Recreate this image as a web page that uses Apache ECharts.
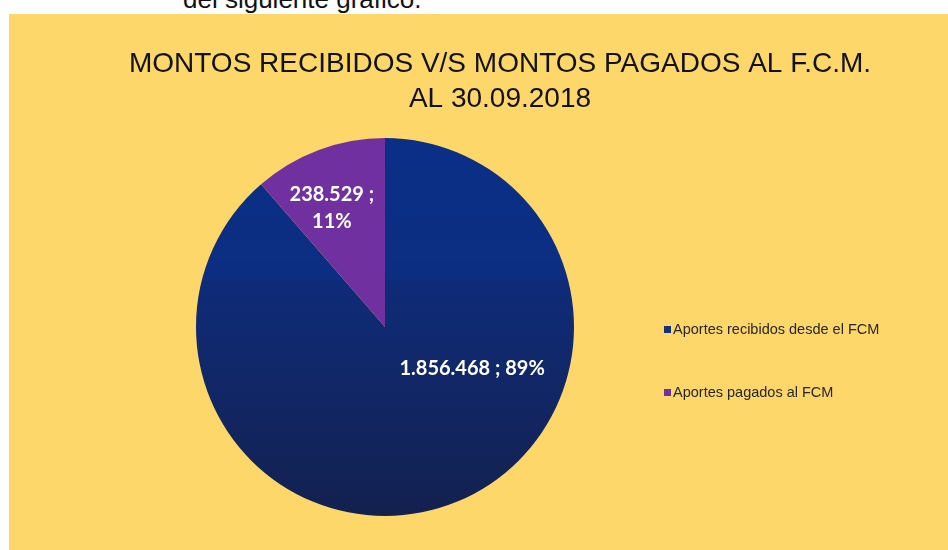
<!DOCTYPE html>
<html>
<head>
<meta charset="utf-8">
<script src="https://cdn.jsdelivr.net/npm/echarts@6/dist/echarts.min.js"></script>
<style>
  html, body { margin: 0; padding: 0; background: #fff; }
  #page { position: relative; width: 948px; height: 550px; overflow: hidden; }
  #top { position: absolute; left: 183px; top: -16px; font: 26px "Liberation Sans", Arial, sans-serif; color: #111; white-space: nowrap; }
  #chart { position: absolute; left: 9px; top: 14px; width: 939px; height: 536px; }
</style>
</head>
<body>
<div id="page">
  <div id="top">del siguiente gráfico.</div>
  <div id="chart"></div>
</div>
<script>
const categories = ['Aportes recibidos desde el FCM', 'Aportes pagados al FCM']
const values = [1856468, 238529]

const fmt = (n) => String(n).replace(/\B(?=(\d{3})+(?!\d))/g, '.')
const total = values.reduce((a, b) => a + b, 0)

const sliceColors = [
    {
        type: 'linear', x: 0, y: 0, x2: 0, y2: 1,
        colorStops: [
            {offset: 0, color: '#0a2f86'},
            {offset: 0.37, color: '#0c2e82'},
            {offset: 0.38, color: '#0f2b78'},
            {offset: 1, color: '#13214f'}
        ]
    },
    '#7030a0'
]
const legendColors = ['#13307a', '#7030a0']
const labelOffsets = [[53, -50], [-19, -28]]

const chart = echarts.init(document.getElementById('chart'))
chart.setOption({
    backgroundColor: '#fdd769',
    animation: false,
    title: {
        text: 'MONTOS RECIBIDOS V/S MONTOS PAGADOS AL F.C.M.\nAL 30.09.2018',
        left: 486,
        textAlign: 'center',
        top: 28,
        textStyle: {
            fontFamily: '"Liberation Sans Narrow", "Liberation Sans", Arial, sans-serif',
            fontWeight: 'normal',
            fontSize: 28,
            lineHeight: 35,
            color: '#111'
        }
    },
    legend: {
        orient: 'vertical',
        left: 650,
        top: 303,
        itemWidth: 7,
        itemHeight: 7,
        itemGap: 48,
        icon: 'rect',
        textStyle: {
            fontFamily: '"Liberation Sans", Arial, sans-serif',
            fontSize: 14.5,
            color: '#262626',
            padding: [0, 0, 0, -3]
        },
        data: categories.map((name, i) => ({name, itemStyle: {color: legendColors[i]}}))
    },
    series: [
        {
            type: 'pie',
            center: [376, 313],
            radius: [0, 189],
            startAngle: 90,
            clockwise: true,
            silent: true,
            itemStyle: {borderWidth: 0},
            labelLine: {show: false},
            data: categories.map((name, i) => ({
                name,
                value: values[i],
                itemStyle: {color: sliceColors[i]},
                label: {
                    show: true,
                    position: 'inside',
                    offset: labelOffsets[i],
                    fontFamily: 'Lato, "Open Sans", sans-serif',
                    fontWeight: 'bold',
                    fontSize: 20,
                    lineHeight: 27,
                    color: '#fff',
                    formatter: (p) => {
                        const pct = Math.round(p.value / total * 100) + '%'
                        return i === 1 ? fmt(p.value) + ' ;\n' + pct : fmt(p.value) + ' ; ' + pct
                    }
                }
            }))
        }
    ]
})
</script>
</body>
</html>
